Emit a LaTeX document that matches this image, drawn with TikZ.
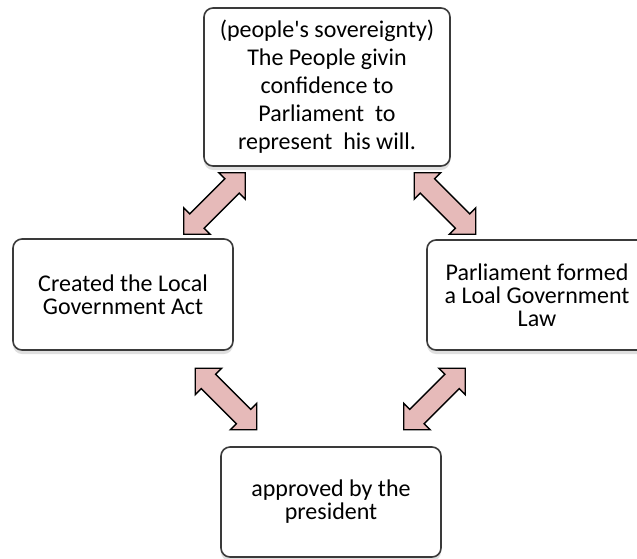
\documentclass[tikz,border=0pt]{standalone}
\usepackage{fontspec}
\setmainfont{Carlito}
\usetikzlibrary{shapes.arrows,shadows}

\definecolor{arrowpink}{HTML}{E6BAB9}
\definecolor{boxline}{HTML}{3A3A3A}

\begin{document}
\begin{tikzpicture}[x=1pt,y=-1pt,
    box/.style={draw=boxline, line width=1.6pt, rounded corners=9pt, fill=white,
        align=center, inner sep=0pt, font=\fontsize{24}{28}\selectfont,
        drop shadow={shadow xshift=0pt, shadow yshift=-4pt, opacity=0.25}},
    dblarrow/.style={double arrow, draw=black, line width=1.4pt, fill=arrowpink,
        minimum height=87pt, inner xsep=0pt, inner ysep=9.5pt,
        double arrow head extend=8.5pt}]

    \useasboundingbox (0,0) rectangle (637,558);

    % The four boxes
    \node[box, minimum width=246pt, minimum height=158pt] (people) at (327,87)
        {(people\textquotesingle s sovereignty)\\The People givin\\confidence to\\Parliament\ \ to\\represent\ \ his will.};
    \node[box, minimum width=220pt, minimum height=111pt, font=\fontsize{24}{23}\selectfont] (act) at (123,294.5)
        {Created the Local\\Government Act};
    \node[box, minimum width=220pt, minimum height=110pt, font=\fontsize{24}{23}\selectfont] (law) at (537,295)
        {Parliament formed\\a Loal Government\\Law};
    \node[box, minimum width=220pt, minimum height=110pt, font=\fontsize{24}{23}\selectfont] (president) at (331,502)
        {approved by the\\president};

    % Block arrows between the boxes
    \node[dblarrow, rotate=45] (a1) at (214.5,203.5) {};
    \node[dblarrow, rotate=-45] (a2) at (445,203.5) {};
    \node[dblarrow, rotate=-45] (a3) at (226,399) {};
    \node[dblarrow, rotate=45] (a4) at (434.5,399) {};

\end{tikzpicture}
\end{document}
